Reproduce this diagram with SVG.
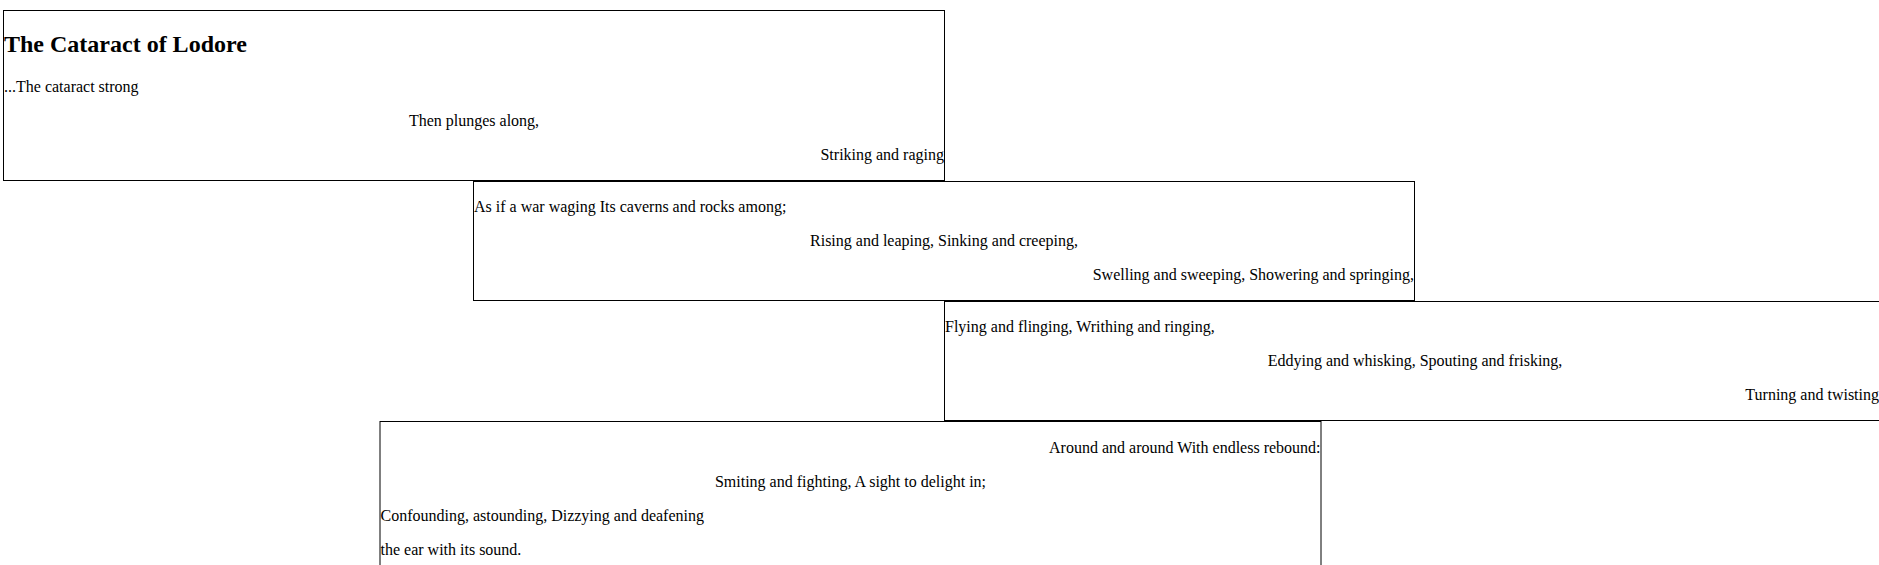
<svg xmlns="http://www.w3.org/2000/svg" width="1879" height="565" viewBox="0 0 1879 565">
<style>
.box{fill:#fff;stroke:#000;stroke-width:1}
text{font-family:"Liberation Serif","Times New Roman",serif;font-size:16px;fill:#000}
.title{font-size:24px;font-weight:bold}
.l{text-anchor:start}
.c{text-anchor:middle}
.r{text-anchor:end}
</style>
<rect width="1879" height="565" fill="#fff"/>
<g id="connectors"></g>
<g id="stanza1">
<rect class="box" x="3.5" y="10.5" width="941" height="170"/>
<text class="title l" x="4" y="52">The Cataract of Lodore</text>
<text class="l" x="4" y="92">...The cataract strong</text>
<text class="c" x="474" y="126">Then plunges along,</text>
<text class="r" x="944" y="160">Striking and raging</text>
</g>
<g id="stanza2">
<rect class="box" x="473.5" y="181.5" width="941" height="119"/>
<text class="l" x="474" y="212">As if a war waging Its caverns and rocks among;</text>
<text class="c" x="944" y="246">Rising and leaping, Sinking and creeping,</text>
<text class="r" x="1414" y="280">Swelling and sweeping, Showering and springing,</text>
</g>
<g id="stanza3">
<rect class="box" x="944.5" y="301.5" width="941" height="119"/>
<text class="l" x="945" y="332">Flying and flinging, Writhing and ringing,</text>
<text class="c" x="1415" y="366">Eddying and whisking, Spouting and frisking,</text>
<text class="r" x="1879" y="400">Turning and twisting</text>
</g>
<g id="stanza4">
<rect class="box" x="380" y="421.5" width="941" height="160"/>
<text class="r" x="1320.5" y="453">Around and around With endless rebound:</text>
<text class="c" x="850.5" y="487">Smiting and fighting, A sight to delight in;</text>
<text class="l" x="380.5" y="521">Confounding, astounding, Dizzying and deafening</text>
<text class="l" x="380.5" y="555">the ear with its sound.</text>
</g>
</svg>
